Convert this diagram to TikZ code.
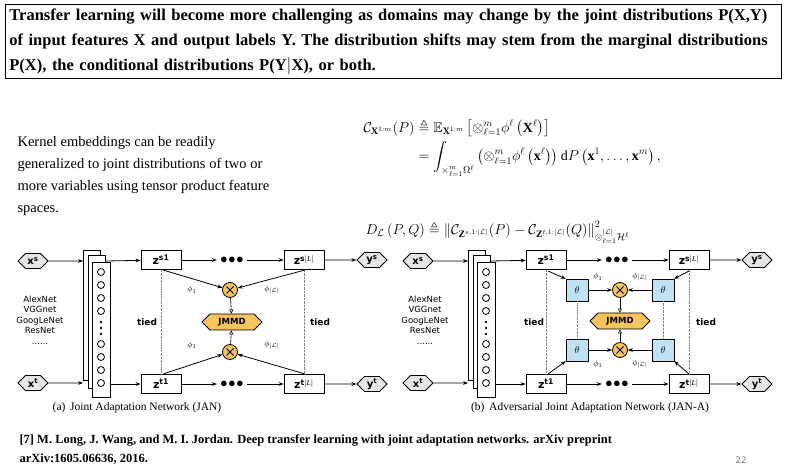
\documentclass[tikz,border=0pt]{standalone}
\usepackage{amsmath,amssymb}
\usepackage{fontspec}
\setmainfont{Liberation Serif}
\newfontfamily\dvsans{DejaVu Sans}
\usepackage{xcolor}
\usepackage{tikz}
\usetikzlibrary{arrows.meta,shapes.symbols,shapes.geometric,shapes.misc}
\definecolor{jorange}{HTML}{F7C35C}
\definecolor{jblue}{HTML}{BFE3F5}
\definecolor{jgray}{HTML}{E6E6E6}
\tikzset{
  io/.style={signal,signal to=east and west,draw,thick,fill=jgray,minimum width=30pt,
    minimum height=15pt,inner sep=1pt,font=\dvsans\fontsize{10}{10}\selectfont\bfseries},
  zbox/.style={draw,thick,minimum width=40pt,minimum height=19pt,inner sep=1pt,
    font=\dvsans\fontsize{11}{11}\selectfont\bfseries},
  tbox/.style={draw,fill=jblue,minimum width=22pt,minimum height=22pt,inner sep=0pt},
  card/.style={draw,fill=white},
  cross/.style={circle,draw,thick,fill=jorange,minimum size=15pt,inner sep=0pt},
  jmmd/.style={chamfered rectangle,chamfered rectangle xsep=8pt,draw,thick,fill=jorange,
    minimum width=60pt,minimum height=15pt,inner sep=1pt,
    font=\dvsans\fontsize{8.5}{9}\selectfont\bfseries},
  flow/.style={-{Stealth[length=5pt]},thick},
  merge/.style={-{Triangle[open,length=4pt,width=4pt]},semithick},
  tie/.style={densely dotted,gray},
  lbl/.style={font=\dvsans\fontsize{8.5}{10.5}\selectfont},
  tiedlbl/.style={font=\dvsans\fontsize{9}{9}\selectfont\bfseries},
}
\newcommand\jbase[1]{%
  \begin{scope}[shift={(#1,0)}]
    \node[io] (xs) at (33,261) {x\textsuperscript{s}};
    \node[io] (xt) at (33,383) {x\textsuperscript{t}};
    \draw[card] (83,250) rectangle (100,380);
    \draw[card] (88,255) rectangle (105,388);
    \draw[card] (92,262) rectangle (110,397);
    \foreach \y in {272,285,298,311,344,357,370,383}
      \draw[thick] (101,\y) circle (3.5pt);
    \foreach \y in {322,328,334}
      \fill (101,\y) circle (1.3pt);
    \coordinate (cin1) at (83,261);
    \coordinate (cin2) at (83,383);
    \coordinate (cout1) at (106,261);
    \coordinate (cout2) at (110,384);
    \node[zbox] (zs1) at (161,260) {z\textsuperscript{s1}};
    \node[zbox] (zsl) at (304,260) {z\textsuperscript{s$|\mathit{L}|$}};
    \node[zbox] (zt1) at (161,384) {z\textsuperscript{t1}};
    \node[zbox] (ztl) at (304,384) {z\textsuperscript{t$|\mathit{L}|$}};
    \node[io] (ys) at (372,260) {y\textsuperscript{s}};
    \node[io] (yt) at (372,384) {y\textsuperscript{t}};
    \node (ds) at (232,260) {\fontsize{14}{14}\selectfont$\bullet\!\bullet\!\bullet$};
    \node (dt) at (232,384) {\fontsize{14}{14}\selectfont$\bullet\!\bullet\!\bullet$};
    \node[lbl,align=center] (nets) at (40,320)
      {AlexNet\\VGGnet\\GoogLeNet\\ResNet\\......};
    \draw[flow] (xs) -- (cin1);
    \draw[flow] (xt) -- (cin2);
    \draw[flow] (cout1) -- (zs1);
    \draw[flow] (cout2) -- (zt1);
    \draw[flow] (zs1) -- (ds);
    \draw[flow] (ds) -- (zsl);
    \draw[flow] (zt1) -- (dt);
    \draw[flow] (dt) -- (ztl);
    \draw[flow] (zsl) -- (ys);
    \draw[flow] (ztl) -- (yt);
    \draw[tie] (zs1) -- (zt1);
    \draw[tie] (zsl) -- (ztl);
  \end{scope}}
\newcommand\jx[1]{\draw[thick] ([shift={(-3.5,-3.5)}]#1.center) -- ([shift={(3.5,3.5)}]#1.center)
  ([shift={(-3.5,3.5)}]#1.center) -- ([shift={(3.5,-3.5)}]#1.center);}
\begin{document}
\begin{tikzpicture}[x=1pt,y=-1pt]
  \useasboundingbox (0,0) rectangle (795,470);
  % headline
  \node[draw,thick,text width=768pt,align=left,inner sep=4pt,anchor=north west,
    font=\fontsize{16.5}{25}\selectfont\bfseries] (head) at (5,4)
    {Transfer learning will become more challenging as domains may change by the joint
     distributions P(X,Y) of input features X and output labels Y. The distribution shifts
     may stem from the marginal distributions P(X), the conditional distributions P(Y$|$X),
     or both.};
  \node[anchor=north west,align=left,font=\fontsize{14.5}{22}\selectfont] (kern) at (14,133)
    {Kernel embeddings can be readily\\generalized to joint distributions of two or\\
     more variables using tensor product feature\\spaces.};
  \node[anchor=north west,font=\fontsize{14}{17}\selectfont] (eq1) at (360,116)
    {$\begin{aligned}
      \mathcal{C}_{\mathbf{X}^{1:m}}(P) &\triangleq \mathbb{E}_{\mathbf{X}^{1:m}}
        \left[\otimes_{\ell=1}^{m}\phi^{\ell}\left(\mathbf{X}^{\ell}\right)\right]\\
      &= \int_{\times_{\ell=1}^{m}\Omega^{\ell}}\left(\otimes_{\ell=1}^{m}\phi^{\ell}
        \left(\mathbf{x}^{\ell}\right)\right)\mathrm{d}P\left(\mathbf{x}^{1},\ldots,\mathbf{x}^{m}\right),
    \end{aligned}$};
  \node[anchor=west,font=\fontsize{14}{17}\selectfont] (eq2) at (362,232)
    {$D_{\mathcal{L}}\left(P,Q\right)\triangleq\left\|\mathcal{C}_{\mathbf{Z}^{s,1:|\mathcal{L}|}}(P)
      -\mathcal{C}_{\mathbf{Z}^{t,1:|\mathcal{L}|}}(Q)\right\|^{2}_{\otimes_{\ell=1}^{|\mathcal{L}|}\mathcal{H}^{\ell}}$};
  % (a) JAN
  \jbase{0}
  \node[cross] (xa1) at (230,290) {};
  \node[cross] (xa2) at (230,352) {};
  \jx{xa1} \jx{xa2}
  \node[jmmd] (ja) at (232,322) {JMMD};
  \draw[flow] (163,270) -- (xa1);
  \draw[flow] (305,270) -- (xa1);
  \draw[flow] (163,374) -- (xa2);
  \draw[flow] (305,374) -- (xa2);
  \draw[merge] (xa1) -- (ja);
  \draw[merge] (xa2) -- (ja);
  \node[lbl] (pa1) at (192,290) {$\phi_1$};
  \node[lbl] (pa2) at (272,290) {$\phi_{|\mathcal{L}|}$};
  \node[lbl] (pa3) at (192,345) {$\phi_1$};
  \node[lbl] (pa4) at (272,345) {$\phi_{|\mathcal{L}|}$};
  \node[tiedlbl] (ta1) at (147,322) {tied};
  \node[tiedlbl] (ta2) at (320,322) {tied};
  \node[font=\fontsize{11.5}{12}\selectfont] (capa) at (137,408) {(a)\, Joint Adaptation Network (JAN)};
  % (b) JAN-A
  \jbase{385}
  \node[cross] (xb1) at (620,290) {};
  \node[cross] (xb2) at (620,350) {};
  \jx{xb1} \jx{xb2}
  \node[jmmd] (jb) at (620,321) {JMMD};
  \node[tbox] (tb1) at (577,290) {$\theta$};
  \node[tbox] (tb2) at (663,290) {$\theta$};
  \node[tbox] (tb3) at (577,350) {$\theta$};
  \node[tbox] (tb4) at (663,350) {$\theta$};
  \draw[flow] (548,271) -- (tb1.north west);
  \draw[flow] (689,271) -- (tb2.north east);
  \draw[flow] (548,374) -- (tb3.south west);
  \draw[flow] (689,374) -- (tb4.south east);
  \draw[flow] (tb1) -- (xb1);
  \draw[flow] (tb2) -- (xb1);
  \draw[flow] (tb3) -- (xb2);
  \draw[flow] (tb4) -- (xb2);
  \draw[merge] (xb1) -- (jb);
  \draw[merge] (xb2) -- (jb);
  \draw[tie] (tb1) -- (tb3);
  \draw[tie] (tb2) -- (tb4);
  \node[lbl] (pb1) at (598,277) {$\phi_1$};
  \node[lbl] (pb2) at (640,277) {$\phi_{|\mathcal{L}|}$};
  \node[lbl] (pb3) at (598,364) {$\phi_1$};
  \node[lbl] (pb4) at (640,364) {$\phi_{|\mathcal{L}|}$};
  \node[tiedlbl] (tb5) at (534,322) {tied};
  \node[tiedlbl] (tb6) at (706,322) {tied};
  \node[font=\fontsize{11.5}{12}\selectfont] (capb) at (590,408) {(b)\, Adversarial Joint Adaptation Network (JAN-A)};
  % reference
  \node[anchor=north west,align=left,font=\fontsize{12.5}{19}\selectfont\bfseries] (ref) at (16,431)
    {[7] M. Long, J. Wang, and M. I. Jordan. Deep transfer learning with joint adaptation networks. arXiv preprint\\arXiv:1605.06636, 2016.};
  \node[gray,font=\dvsans\fontsize{9}{9}\selectfont] (page) at (741,460) {22};
\end{tikzpicture}
\end{document}
